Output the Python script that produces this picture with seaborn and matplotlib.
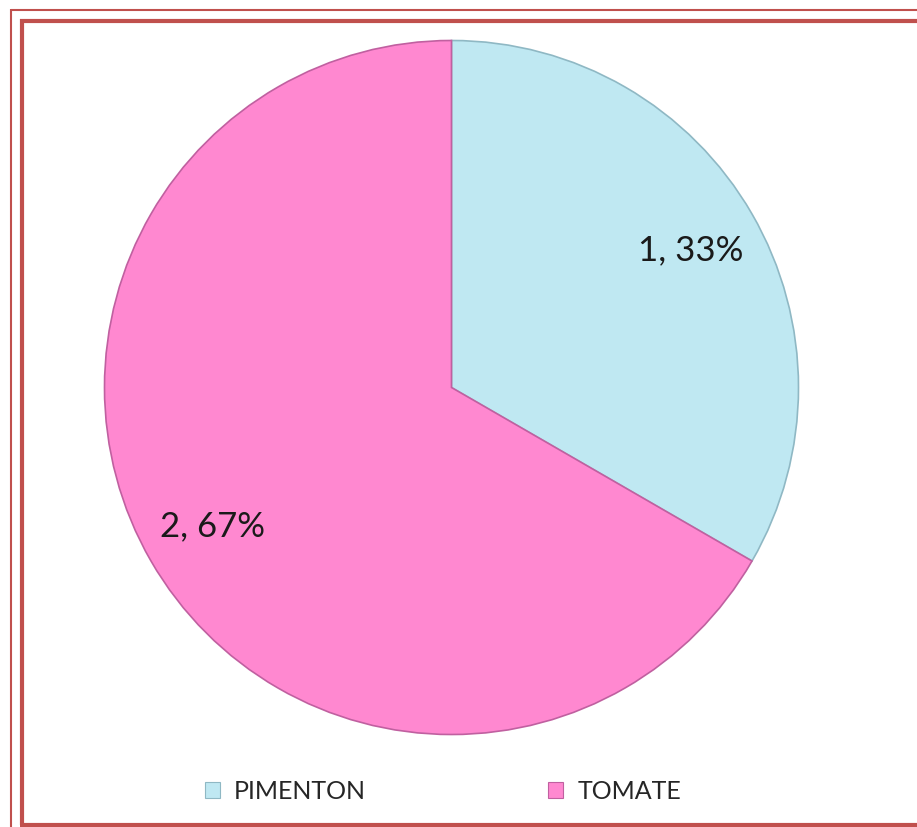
import matplotlib
matplotlib.use("Agg")
import matplotlib.pyplot as plt
import seaborn as sns
from matplotlib.lines import Line2D
from matplotlib.patches import Patch

categories = ["PIMENTON", "TOMATE"]
values = [1, 2]
colors = ["#BFE8F2", "#FF88D0"]
edge_colors = ["#8FB8C4", "#C060A0"]

sns.set_theme(style="white")
plt.rcParams['font.family'] = ['Lato', 'DejaVu Sans']

W, H = 917, 828
fig = plt.figure(figsize=(W / 100, H / 100), dpi=100)
fig.patch.set_facecolor("white")

# pie axes
cx, cy, r = 451.5, 388.5, 347
ax = fig.add_axes([(cx - r) / W, 1 - (cy + r) / H, 2 * r / W, 2 * r / H])

total = sum(values)

def fmt(pct):
    v = int(round(pct * total / 100.0))
    return f"{v}, {pct:.0f}%"

wedges, texts, autotexts = ax.pie(
    values, colors=colors, startangle=90, counterclock=False,
    autopct=fmt, pctdistance=0.795,
    wedgeprops=dict(linewidth=1.2),
    textprops=dict(fontsize=25, color="#1a1a1a"),
)
for w, ec in zip(wedges, edge_colors):
    w.set_edgecolor(ec)
ax.set_xlim(-1, 1)
ax.set_ylim(-1, 1)
ax.set_aspect("equal")
ax.axis("off")

# legend
handles = [Patch(facecolor=c, edgecolor=e, linewidth=0.8) for c, e in zip(colors, edge_colors)]
fig.legend(handles, categories, loc="center", bbox_to_anchor=(443 / W, 1 - 792 / H),
           ncol=2, frameon=False, fontsize=18, handlelength=0.6, handleheight=0.6,
           handletextpad=0.55, columnspacing=7.3)

# double border
red = "#C0504D"
def px_line(x0, y0, x1, y1, lw):
    fig.add_artist(Line2D([x0 / W, x1 / W], [1 - y0 / H, 1 - y1 / H],
                          transform=fig.transFigure, color=red, linewidth=lw,
                          solid_capstyle="butt"))

# outer line (~2px)
px_line(11, 11, W + 5, 11, 1.5)
px_line(11, 10, 11, H + 5, 1.5)
# inner line (~4px)
px_line(20, 22, W + 5, 22, 3.0)
px_line(22, 20, 22, 826, 3.0)
px_line(20, 826, W + 5, 826, 3.0)

fig.savefig("out.png", dpi=100, facecolor="white")
